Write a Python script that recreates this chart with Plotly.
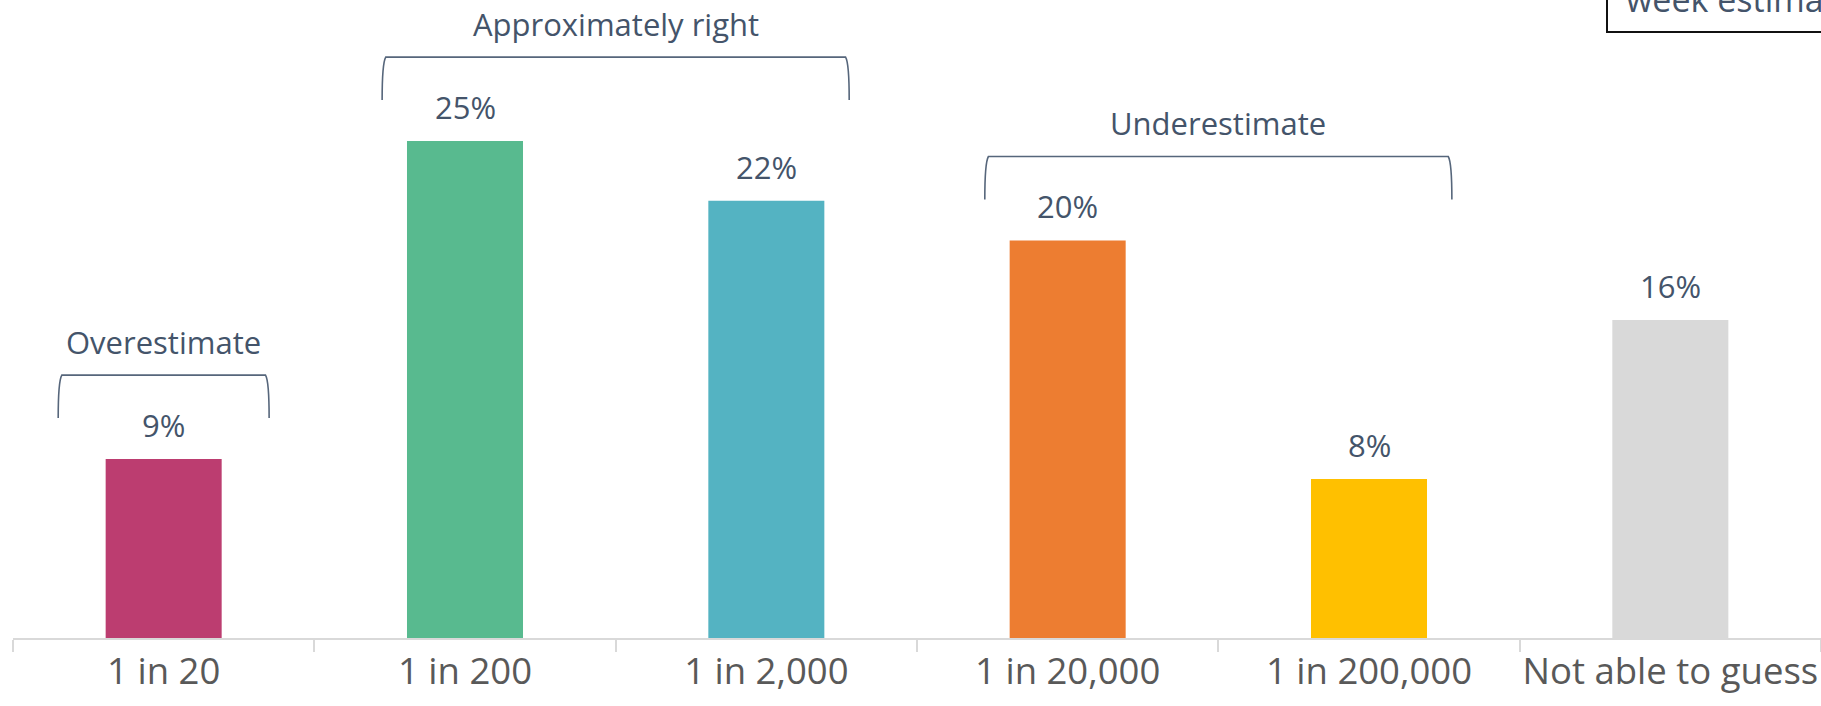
import plotly.graph_objects as go

categories = ["1 in 20", "1 in 200", "1 in 2,000", "1 in 20,000", "1 in 200,000", "Not able to guess"]
values = [9, 25, 22, 20, 8, 16]
value_labels = ["9%", "25%", "22%", "20%", "8%", "16%"]
bar_colors = ["#BC3D70", "#58BA8F", "#54B3C2", "#ED7D31", "#FFC000", "#D9D9D9"]

group_names = ["Overestimate", "Approximately right", "Underestimate"]
group_first = [0, 1, 3]
group_last = [0, 2, 4]

FONT = "Open Sans"
TXT = "#44546A"
W, H = 1821, 706
ML, MB = 13, 68
PLOT_H = H - MB
YMAX = 32.1
PX = PLOT_H / YMAX  # pixels per unit

fig = go.Figure()
fig.add_trace(go.Bar(
    x=categories, y=values, marker=dict(color=bar_colors, line=dict(width=0)),
    width=0.385, hoverinfo="skip"))

annotations = []
for c, v, t in zip(categories, values, value_labels):
    annotations.append(dict(x=c, y=v, xref="x", yref="y", text=t, showarrow=False,
                            yanchor="bottom", yshift=11,
                            font=dict(family=FONT, size=31, color=TXT)))

shapes = []
for name, a, b in zip(group_names, group_first, group_last):
    top = max(values[a:b + 1])
    pad = 0.35 if a == b else 0.275
    x0, x1 = a - pad, b + pad
    yh = top + 84 / PX
    yl = top + 41 / PX
    rx, ry = 0.012, 6 / PX
    path = (f"M {x0},{yl} Q {x0},{yh - ry} {x0 + rx},{yh} L {x1 - rx},{yh} "
            f"Q {x1},{yh - ry} {x1},{yl}")
    shapes.append(dict(type="path", path=path, xref="x", yref="y",
                       line=dict(color="#56667B", width=1.6)))
    annotations.append(dict(x=(a + b) / 2, y=yh + 33 / PX, xref="x", yref="y",
                            text=name, showarrow=False, yanchor="middle",
                            font=dict(family=FONT, size=31, color=TXT)))

# top-right note box (cut off by page edge)
PW = W - ML
shapes.append(dict(type="rect", xref="paper", yref="paper",
                   x0=(1607 - ML) / PW, x1=1.05, y0=(PLOT_H - 32) / PLOT_H, y1=1.2,
                   line=dict(color="#111111", width=2), fillcolor="rgba(0,0,0,0)"))
annotations.append(dict(x=(1624 - ML) / PW, y=(PLOT_H - 24) / PLOT_H, xref="paper", yref="paper",
                        xanchor="left", yanchor="bottom", text="week estimate", showarrow=False,
                        font=dict(family=FONT, size=34, color=TXT)))

fig.update_layout(
    width=W, height=H, margin=dict(l=ML, r=0, t=0, b=MB, autoexpand=False),
    paper_bgcolor="white", plot_bgcolor="white", showlegend=False,
    shapes=shapes, annotations=annotations,
    xaxis=dict(type="category", tickson="boundaries", ticks="outside", ticklen=12,
               tickcolor="#D9D9D9", tickwidth=2, showline=True, linecolor="#D9D9D9",
               linewidth=2, showgrid=False, tickangle=0, automargin=False,
               tickfont=dict(family=FONT, size=36.5, color="#595959")),
    yaxis=dict(range=[0, YMAX], visible=False, showgrid=False, zeroline=False,
               automargin=False),
)
fig.write_html("out.html")
